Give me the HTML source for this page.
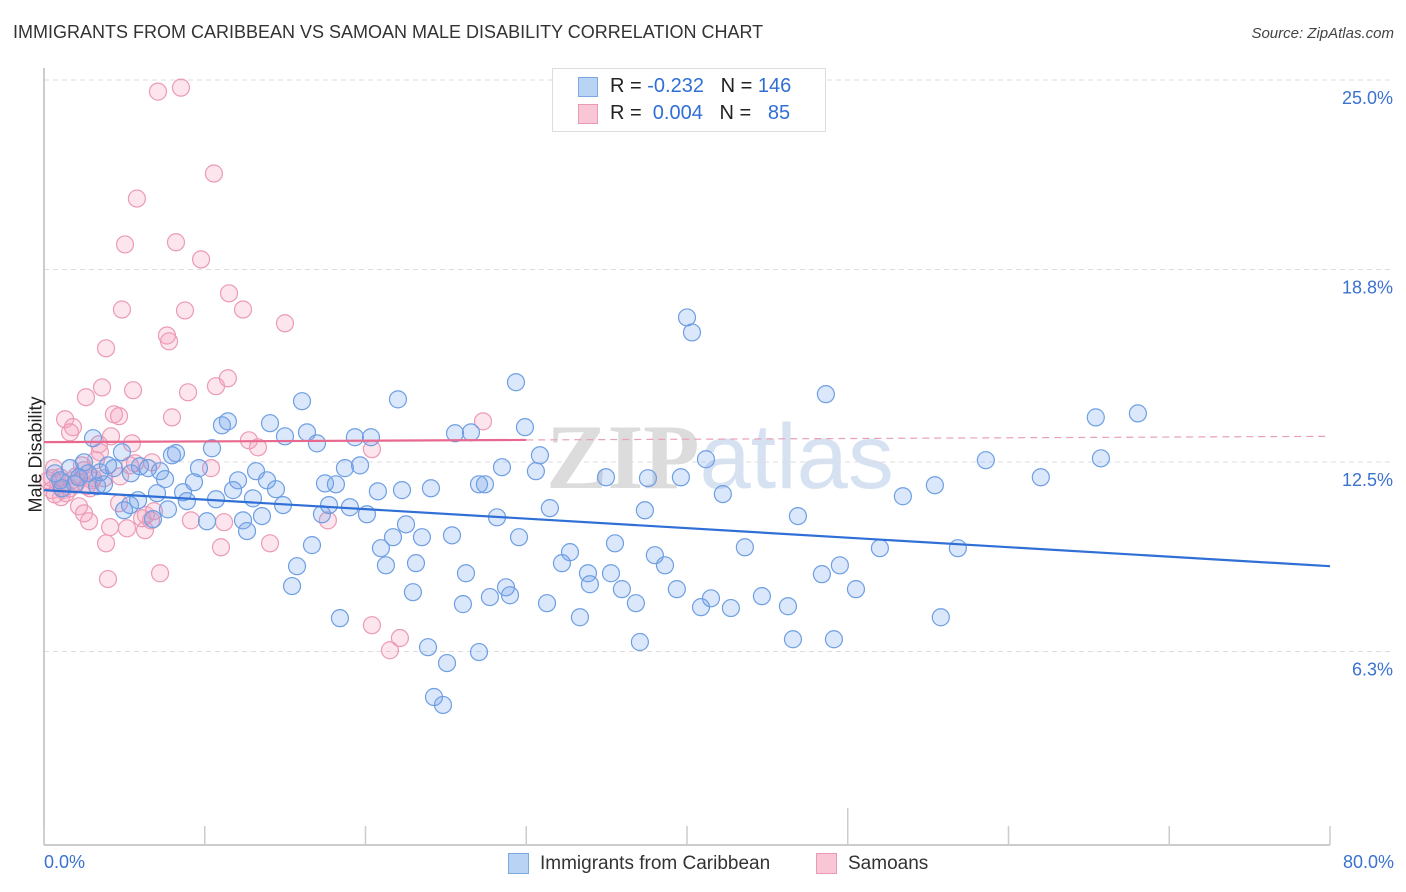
<!DOCTYPE html>
<html><head><meta charset="utf-8">
<style>
body{margin:0;background:#fff;font-family:"Liberation Sans",sans-serif;}
#wrap{position:relative;width:1406px;height:892px;overflow:hidden;}
.t{position:absolute;white-space:nowrap;}
</style></head>
<body>
<div id="wrap">
<div class="t" style="left:13px;top:22px;font-size:18px;color:#333;">IMMIGRANTS FROM CARIBBEAN VS SAMOAN MALE DISABILITY CORRELATION CHART</div>
<div class="t" style="right:12px;top:25px;font-size:15px;color:#444;font-style:italic;">Source: ZipAtlas.com</div>
<svg id="plot" width="1406" height="892" style="position:absolute;left:0;top:0"></svg>
<div style="position:absolute;left:552px;top:68px;width:272px;height:62px;border:1px solid #ddd;background:#fff;font-size:20px;">
  <div style="position:absolute;left:25px;top:8px;width:20px;height:20px;background:#b9d3f5;border:1px solid #7fa9e3;box-sizing:border-box"></div>
  <div class="t" style="left:57px;top:6px;color:#222">R = <span style="color:#2f6fd6">-0.232</span>&nbsp;&nbsp;&nbsp;N = <span style="color:#2f6fd6">146</span></div>
  <div style="position:absolute;left:25px;top:35px;width:20px;height:20px;background:#f8c6d5;border:1px solid #eb9ab4;box-sizing:border-box"></div>
  <div class="t" style="left:57px;top:33px;color:#222">R = &nbsp;<span style="color:#2f6fd6">0.004</span>&nbsp;&nbsp;&nbsp;N = &nbsp;&nbsp;<span style="color:#2f6fd6">85</span></div>
</div>
<div class="t" style="left:-22px;top:444px;font-size:18px;color:#222;transform:rotate(-90deg);">Male Disability</div>
<div class="t" style="left:44px;top:852px;font-size:18px;color:#3a72d0">0.0%</div>
<div class="t" style="right:12px;top:852px;font-size:18px;color:#3a72d0">80.0%</div>
<div style="position:absolute;left:508px;top:853px;width:21px;height:21px;background:#b9d3f5;border:1px solid #7fa9e3;box-sizing:border-box"></div>
<div class="t" style="left:540px;top:853px;font-size:19px;color:#333">Immigrants from Caribbean</div>
<div style="position:absolute;left:816px;top:853px;width:21px;height:21px;background:#f8c6d5;border:1px solid #eb9ab4;box-sizing:border-box"></div>
<div class="t" style="left:848px;top:853px;font-size:19px;color:#333">Samoans</div>
</div>
<script>
const yTicks=[25.0,18.8,12.5,6.3];
const yTickLabels=["25.0%","18.8%","12.5%","6.3%"];
const xTicks=[0,10,20,30,40,50,60,70,80];
const blueX=[3.05,3.98,1.62,2.49,4.85,1.0,1.93,3.3,5.41,5.97,6.47,7.22,8.21,4.98,5.85,7.03,7.53,6.78,7.71,8.65,8.89,9.33,7.96,9.64,10.14,10.45,10.7,11.07,11.44,11.76,12.07,12.38,12.63,13.0,13.19,13.56,13.87,14.06,14.43,14.87,14.99,15.43,15.74,16.05,16.36,16.67,16.98,17.29,17.48,17.73,18.16,18.41,18.72,19.03,19.34,19.66,20.09,20.34,20.77,20.96,21.27,21.71,22.02,22.27,22.52,22.95,23.14,23.51,24.07,23.89,25.07,24.26,24.82,25.38,25.57,26.06,26.25,26.56,27.06,27.43,27.06,27.74,28.18,28.49,28.74,28.99,29.36,29.55,29.92,30.6,30.85,31.29,31.47,32.22,32.72,33.34,33.84,33.96,34.96,35.27,35.52,35.95,36.82,37.07,37.38,37.57,38.0,38.63,39.37,39.62,40.0,40.31,40.87,41.18,41.49,42.23,42.73,43.6,44.66,46.28,46.59,46.9,48.39,48.64,49.14,49.51,50.51,52.0,53.43,55.42,55.79,56.85,58.59,62.01,65.43,65.75,68.05,0.68,1.12,2.18,2.74,3.48,4.35,5.35,3.73];
const blueY=[13.28,12.39,12.3,12.49,12.82,11.9,11.77,11.71,12.13,12.36,12.3,12.2,12.79,10.92,11.25,11.48,11.94,10.63,10.95,11.51,11.22,11.84,12.72,12.3,10.56,12.95,11.28,13.7,13.83,11.58,11.9,10.59,10.24,11.31,12.2,10.73,11.9,13.77,11.61,11.09,13.34,8.44,9.09,14.49,13.47,9.78,13.11,10.79,11.8,11.09,11.77,7.39,12.3,11.02,13.31,12.39,10.79,13.31,11.54,9.68,9.12,10.04,14.55,11.58,10.46,8.24,9.19,10.04,11.64,6.44,5.92,4.81,4.55,10.1,13.44,7.85,8.86,13.47,11.77,11.77,6.28,8.08,10.69,12.33,8.4,8.14,15.11,10.04,13.64,12.2,12.72,7.88,10.99,9.19,9.55,7.42,8.86,8.5,12.0,8.86,9.84,8.34,7.88,6.61,10.92,11.97,9.45,9.12,8.34,12.0,17.23,16.74,7.75,12.59,8.04,11.45,7.72,9.71,8.11,7.78,6.7,10.73,8.83,14.72,6.7,9.12,8.34,9.68,11.38,11.74,7.42,9.68,12.56,12.0,13.96,12.62,14.09,12.13,11.64,12.0,12.13,12.16,12.3,11.09,11.77];
const pinkX=[7.09,8.52,10.57,5.78,8.21,5.04,9.77,11.51,4.85,8.77,12.38,14.99,7.65,7.78,3.86,3.61,5.54,8.96,10.7,11.44,2.61,1.31,1.8,1.62,4.35,4.67,7.96,12.75,13.31,20.4,27.31,4.17,3.42,3.48,5.47,5.66,3.23,2.36,0.62,0.5,0.87,1.18,1.74,2.49,2.86,2.99,4.73,3.73,6.72,5.35,10.39,1.06,1.37,2.18,2.8,2.49,4.67,4.11,5.16,6.34,6.28,6.66,6.84,6.1,9.14,11.2,3.86,11.01,14.06,17.66,3.98,7.22,20.4,21.52,22.14,0.5,0.25,1.0,2.05,3.05,0.68,1.62,2.67,1.99];
const pinkY=[24.62,24.75,21.94,21.12,19.69,19.62,19.13,18.02,17.49,17.46,17.49,17.04,16.64,16.45,16.22,14.94,14.85,14.78,14.98,15.24,14.62,13.9,13.64,13.47,14.06,14.0,13.96,13.21,12.98,12.92,13.83,13.34,13.08,12.82,13.11,12.46,12.56,12.39,12.3,11.97,11.84,11.58,11.9,12.23,11.64,11.9,12.03,11.97,12.49,12.39,12.3,11.35,11.48,11.05,10.56,10.82,11.15,10.37,10.33,10.76,10.27,10.59,10.89,10.66,10.59,10.53,9.84,9.71,9.84,10.59,8.67,8.86,7.16,6.34,6.74,11.58,11.9,12.0,11.84,11.97,11.44,11.64,11.71,12.03];
const blueTrend=[11.58,9.09];      // y at x=0, x=80
const pinkTrend=[13.15,13.34];     // y at x=0, x=80
const pinkSolidEnd=30;

const X0=44,X1=1330,Y0=844,YPER=30.56;
const sx=v=>X0+(v/80)*(X1-X0);
const sy=v=>Y0-v*YPER;
const NS="http://www.w3.org/2000/svg";
const svg=document.getElementById('plot');
function mk(tag,attrs,parent){const e=document.createElementNS(NS,tag);for(const k in attrs)e.setAttribute(k,attrs[k]);(parent||svg).appendChild(e);return e;}

// watermark
const wm=mk('text',{x:720,y:488,'text-anchor':'middle','font-size':'92','font-family':'Liberation Serif, serif',fill:'#e6e6e6'});


wm.innerHTML='<tspan font-weight="bold" fill="#dcdcdc">ZIP</tspan><tspan font-family="Liberation Sans, sans-serif" fill="#d6e2f2">atlas</tspan>';

yTicks.forEach((v,i)=>{
  const g=mk('line',{x1:X0,x2:1393,y1:sy(v),y2:sy(v),stroke:'#ddd','stroke-dasharray':'5,4'});
  
  
  const t=mk('text',{x:1393,y:sy(v)+24,'text-anchor':'end','font-size':'18',fill:'#3a72d0'});
  
  
  t.textContent=yTickLabels[i];
});
const ax=mk('line',{x1:X0,x2:X0,y1:68,y2:Y0+1,stroke:'#bbb','stroke-width':1.5});


const bx=mk('line',{x1:X0,x2:X1,y1:Y0+1,y2:Y0+1,stroke:'#bbb','stroke-width':1.5});


xTicks.forEach(v=>{
  const tk=mk('line',{x1:sx(v),x2:sx(v),y1:v===50?808:826,y2:Y0+1,stroke:'#ccc','stroke-width':1.5});
  
  
});

function dots(xs,ys,fill,stroke,name){
  xs.forEach((x,i)=>{
    const c=mk('circle',{cx:sx(x),cy:sy(ys[i]),r:8.5,fill:fill,stroke:stroke,'stroke-width':1.2});
    
    
  });
}
dots(pinkX,pinkY,'rgba(244,160,190,0.28)','#ec9ab5','samoan-point');
dots(blueX,blueY,'rgba(110,160,235,0.25)','#6e9fe3','caribbean-point');

const bl=mk('line',{x1:sx(0),y1:sy(blueTrend[0]),x2:sx(80),y2:sy(blueTrend[1]),stroke:'#2f6fd6','stroke-width':2.2});


const py=x=>pinkTrend[0]+(pinkTrend[1]-pinkTrend[0])*x/80;
const pl=mk('line',{x1:sx(0),y1:sy(py(0)),x2:sx(pinkSolidEnd),y2:sy(py(pinkSolidEnd)),stroke:'#e8698f','stroke-width':2.2});


const pd=mk('line',{x1:sx(pinkSolidEnd),y1:sy(py(pinkSolidEnd)),x2:sx(80),y2:sy(py(80)),stroke:'#e8a0b6','stroke-width':1.2,'stroke-dasharray':'7,5'});


</script>
</body></html>
